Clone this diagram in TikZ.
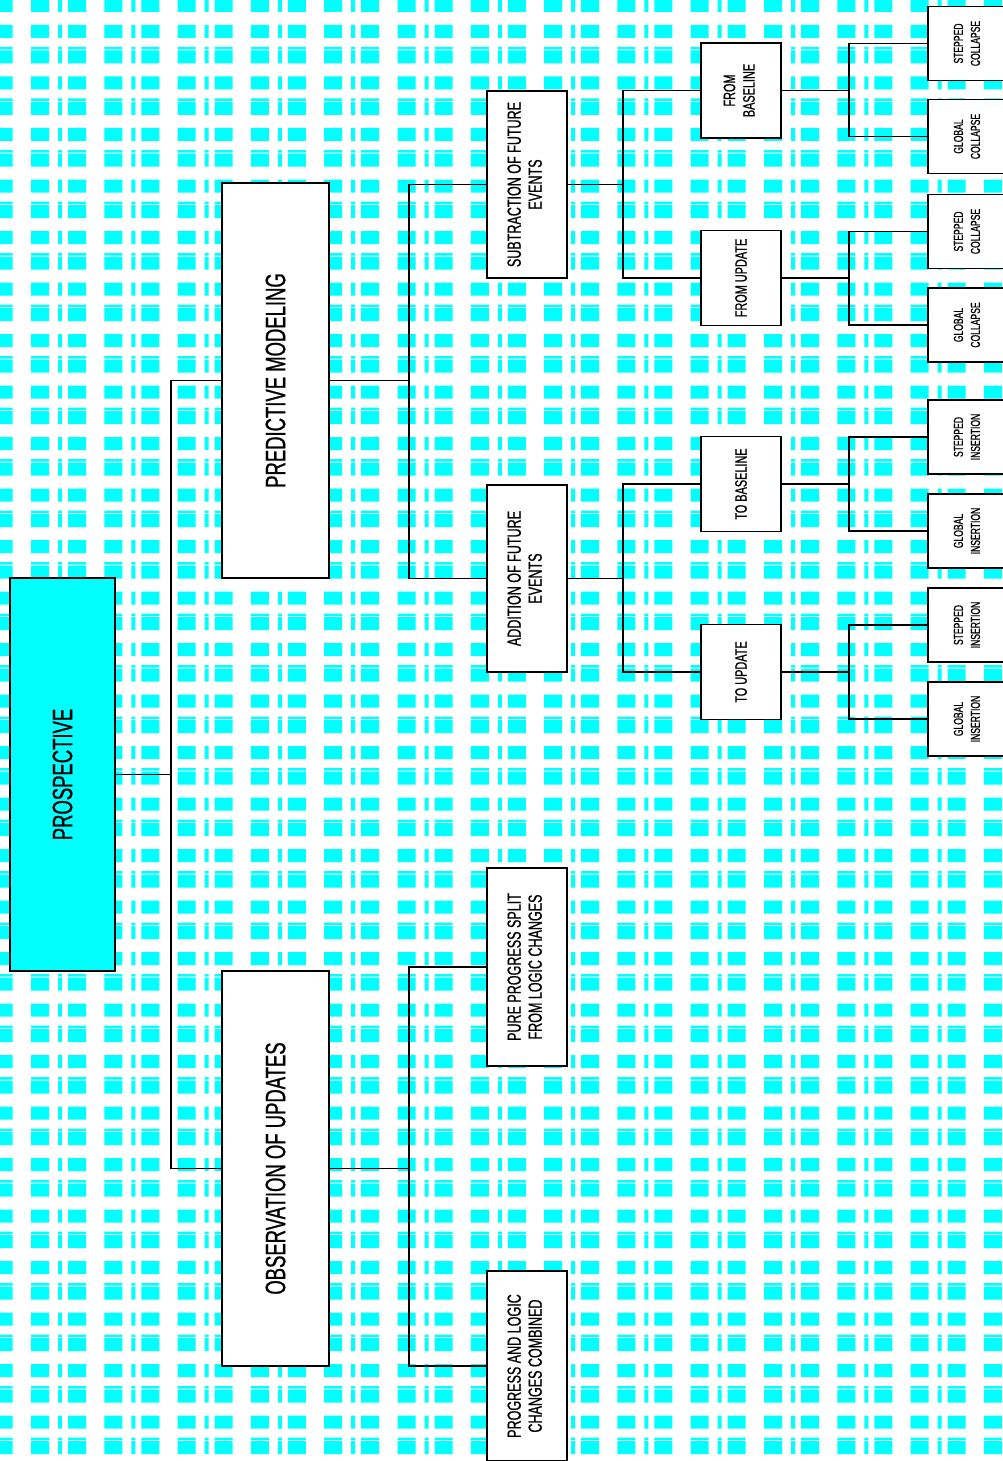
\documentclass[tikz,border=0pt]{standalone}
\usepackage{fontspec}
\setmainfont{Liberation Sans}[FakeStretch=0.66,FakeBold=0.8]
\definecolor{cy}{RGB}{0,255,255}
\begin{document}
\begin{tikzpicture}[x=1pt,y=-1pt,
  boxbase/.style={draw=black, line width=1.9pt, fill=white, inner sep=0pt, align=center, text=black},
  rootbox/.style={boxbase, fill=cy, minimum width=105pt, minimum height=393pt, font=\fontsize{28}{30}\selectfont},
  lonebox/.style={boxbase, minimum width=107pt, minimum height=395pt, font=\fontsize{28}{30}\selectfont},
  ltwobox/.style={boxbase, minimum width=80pt, minimum height=187pt, font=\fontsize{19}{21}\selectfont},
  lthreebox/.style={boxbase, minimum width=80pt, minimum height=95pt, font=\fontsize{16.5}{19.5}\selectfont},
  leafbox/.style={boxbase, minimum width=80pt, minimum height=74pt, font=\fontsize{13}{17}\selectfont},
  conn/.style={draw=black, line width=1.6pt}
]
\useasboundingbox (0,0) rectangle (1002,1461);
\fill[white] (0,0) rectangle (1002,1461);
% plaid background
\begin{scope}
\clip \foreach \k in {-1,...,27} {
  (0,{47+51.5*\k}) rectangle (1002,{49.5+51.5*\k})
  (0,{50.5+51.5*\k}) rectangle (1002,{63.5+51.5*\k})
  (0,{76.5+51.5*\k}) rectangle (1002,{89.5+51.5*\k}) };
\fill[cy] \foreach \j in {-1,...,13} {
  ({31+73.3*\j},0) rectangle ({49+73.3*\j},1461)
  ({58+73.3*\j},0) rectangle ({62+73.3*\j},1461)
  ({68+73.3*\j},0) rectangle ({86+73.3*\j},1461) };
\end{scope}

% nodes
\node[rootbox] (root) at (62.5,774.5) {\rotatebox{90}{PROSPECTIVE}};
\node[lonebox] (pm) at (275.5,380.5) {\rotatebox{90}{PREDICTIVE MODELING}};
\node[lonebox] (ou) at (275.5,1168.5) {\rotatebox{90}{OBSERVATION OF UPDATES}};

\node[ltwobox] (sub) at (527,184.5) {\rotatebox{90}{\begin{tabular}{@{}c@{}}SUBTRACTION OF FUTURE\\EVENTS\end{tabular}}};
\node[ltwobox] (add) at (527,578.5) {\rotatebox{90}{\begin{tabular}{@{}c@{}}ADDITION OF FUTURE\\EVENTS\end{tabular}}};
\node[ltwobox, minimum height=198pt] (pure) at (527,967) {\rotatebox{90}{\begin{tabular}{@{}c@{}}PURE PROGRESS SPLIT\\FROM LOGIC CHANGES\end{tabular}}};
\node[ltwobox, minimum height=190pt] (comb) at (527,1366) {\rotatebox{90}{\begin{tabular}{@{}c@{}}PROGRESS AND LOGIC\\CHANGES COMBINED\end{tabular}}};

\node[lthreebox] (fb) at (741,90.5) {\rotatebox{90}{\begin{tabular}{@{}c@{}}FROM\\BASELINE\end{tabular}}};
\node[lthreebox] (fu) at (741,278) {\rotatebox{90}{FROM UPDATE}};
\node[lthreebox] (tb) at (741,484) {\rotatebox{90}{TO BASELINE}};
\node[lthreebox] (tu) at (741,672) {\rotatebox{90}{TO UPDATE}};

\node[leafbox] (l1) at (968,43.5) {\rotatebox{90}{\begin{tabular}{@{}c@{}}STEPPED\\COLLAPSE\end{tabular}}};
\node[leafbox] (l2) at (968,136.5) {\rotatebox{90}{\begin{tabular}{@{}c@{}}GLOBAL\\COLLAPSE\end{tabular}}};
\node[leafbox] (l3) at (968,231.5) {\rotatebox{90}{\begin{tabular}{@{}c@{}}STEPPED\\COLLAPSE\end{tabular}}};
\node[leafbox] (l4) at (968,325) {\rotatebox{90}{\begin{tabular}{@{}c@{}}GLOBAL\\COLLAPSE\end{tabular}}};
\node[leafbox] (l5) at (968,437) {\rotatebox{90}{\begin{tabular}{@{}c@{}}STEPPED\\INSERTION\end{tabular}}};
\node[leafbox] (l6) at (968,531) {\rotatebox{90}{\begin{tabular}{@{}c@{}}GLOBAL\\INSERTION\end{tabular}}};
\node[leafbox] (l7) at (968,625) {\rotatebox{90}{\begin{tabular}{@{}c@{}}STEPPED\\INSERTION\end{tabular}}};
\node[leafbox] (l8) at (968,719) {\rotatebox{90}{\begin{tabular}{@{}c@{}}GLOBAL\\INSERTION\end{tabular}}};

% connectors
\foreach \c in {pm,ou} \draw[conn] (root.east) -- ++(55,0) |- (\c.west);
\foreach \c in {sub,add} \draw[conn] (pm.east) -- ++(79,0) |- (\c.west);
\foreach \c in {pure,comb} \draw[conn] (ou.east) -- ++(79,0) |- (\c.west);
\foreach \c in {fb,fu} \draw[conn] (sub.east) -- ++(55,0) |- (\c.west);
\foreach \c in {tb,tu} \draw[conn] (add.east) -- ++(55,0) |- (\c.west);
\foreach \c in {l1,l2} \draw[conn] (fb.east) -- ++(67,0) |- (\c.west);
\foreach \c in {l3,l4} \draw[conn] (fu.east) -- ++(67,0) |- (\c.west);
\foreach \c in {l5,l6} \draw[conn] (tb.east) -- ++(67,0) |- (\c.west);
\foreach \c in {l7,l8} \draw[conn] (tu.east) -- ++(67,0) |- (\c.west);
\end{tikzpicture}
\end{document}
